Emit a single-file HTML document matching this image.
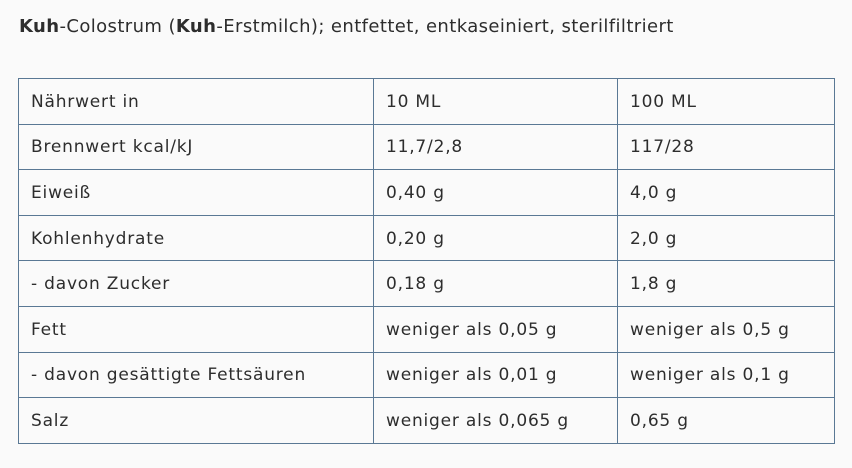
<!DOCTYPE html>
<html><head><meta charset="utf-8"><style>
html,body{margin:0;padding:0;background:#fafafa;width:852px;height:468px;overflow:hidden}
body{font-family:"DejaVu Sans","Liberation Sans",sans-serif;color:#2d2d2d}
h1{position:absolute;left:19px;top:16px;margin:0;font-size:18px;font-weight:normal;letter-spacing:0.4px}
table{position:absolute;left:18px;top:78px;border-collapse:collapse;width:817px}
td{border:1px solid #5a7894;height:45.6px;padding:1px 0 0 12px;font-size:17px;letter-spacing:0.8px;vertical-align:middle;box-sizing:border-box}
td:nth-child(1){width:355px}
td:nth-child(2){width:244px}
</style></head><body>
<h1><b>Kuh</b>-Colostrum (<b>Kuh</b>-Erstmilch); entfettet, entkaseiniert, sterilfiltriert</h1>
<table>
<tr><td>Nährwert in</td><td>10 ML</td><td>100 ML</td></tr>
<tr><td>Brennwert kcal/kJ</td><td>11,7/2,8</td><td>117/28</td></tr>
<tr><td>Eiweiß</td><td>0,40 g</td><td>4,0 g</td></tr>
<tr><td>Kohlenhydrate</td><td>0,20 g</td><td>2,0 g</td></tr>
<tr><td>- davon Zucker</td><td>0,18 g</td><td>1,8 g</td></tr>
<tr><td>Fett</td><td>weniger als 0,05 g</td><td>weniger als 0,5 g</td></tr>
<tr><td>- davon gesättigte Fettsäuren</td><td>weniger als 0,01 g</td><td>weniger als 0,1 g</td></tr>
<tr><td>Salz</td><td>weniger als 0,065 g</td><td>0,65 g</td></tr>
</table>
</body></html>
